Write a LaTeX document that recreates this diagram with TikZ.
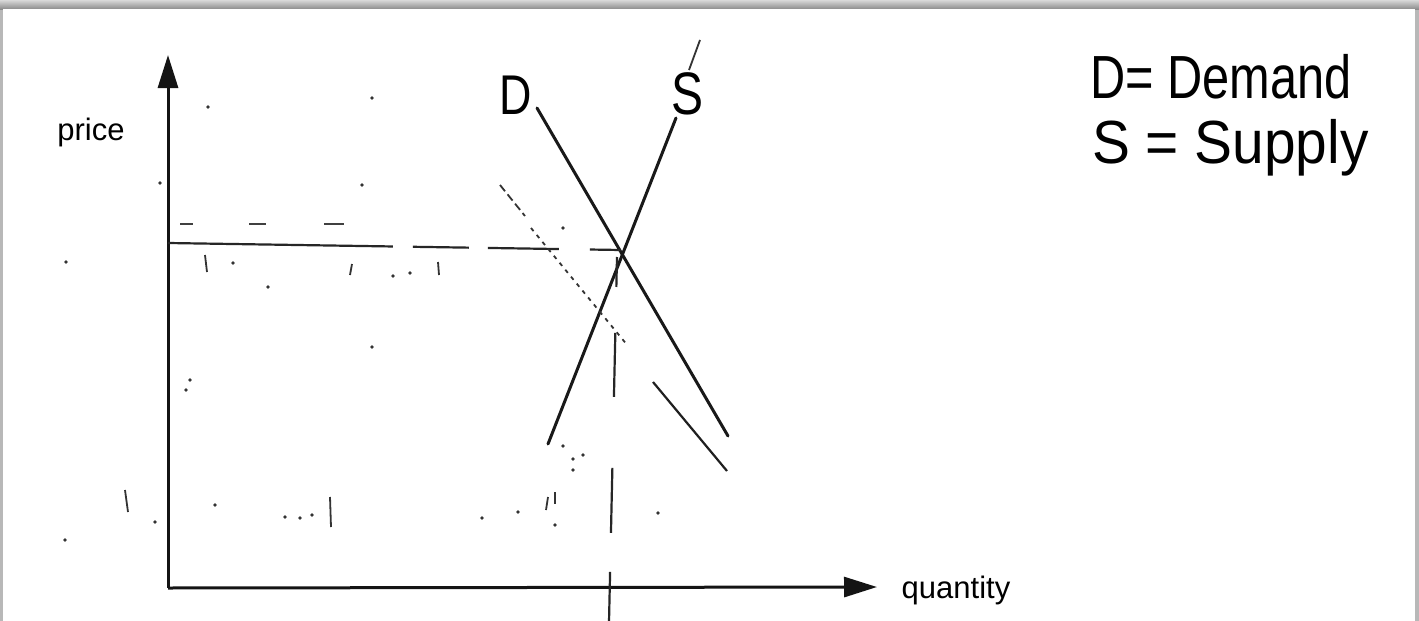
\documentclass[tikz,border=0pt]{standalone}
\usepackage{fontspec}
\setmainfont{Liberation Sans}
\usetikzlibrary{arrows.meta}
\tikzset{
  axisline/.style={line width=3pt, color=black!92, -{Triangle[length=33pt,width=20pt]}},
  curveline/.style={line width=3pt, color=black!90, line cap=round},
  guideline/.style={line width=2.2pt, color=black!85},
  faintline/.style={line width=1.8pt, color=black!80},
  speck/.style={fill=black!80, inner sep=0pt, minimum size=3.6pt, circle, draw=none},
  axislabel/.style={font=\fontsize{31}{34}\selectfont, inner sep=0pt, anchor=base},
  hand/.style={font=\fontsize{58}{62}\selectfont, inner sep=0pt, anchor=base west},
}
\begin{document}
\begin{tikzpicture}[x=1pt,y=-1pt]
\useasboundingbox (0,0) rectangle (1419,621);
% frame shadow
\fill[black!28] (0,0) rectangle (1419,621);
\shade[top color=black!15, bottom color=black!45] (0,0) rectangle (1419,9);
\fill[white] (3,9) rectangle (1415,621);

% axes
\coordinate (O) at (168,588);
\coordinate (ytip) at (168,55);
\coordinate (xtip) at (877,587);
\draw[axisline] (O) -- (ytip);
\draw[axisline] (O) -- (xtip);
\node[axislabel] (price) at (91,140) {price};
\node[axislabel] (qty) at (956,598) {quantity};

% demand and supply
\coordinate (Dtop) at (537,108);
\coordinate (Dbot) at (728,436);
\coordinate (Stop) at (676,118);
\coordinate (Sbot) at (548,444);
\coordinate (E) at (620,250);
\draw[curveline] (Dtop) -- (Dbot);
\draw[curveline] (Sbot) -- (Stop);
\coordinate (Stick1) at (689,70);
\coordinate (Stick2) at (700,40);
\draw[faintline] (Stick1) -- (Stick2);
\node[font=\fontsize{56}{60}\selectfont, inner sep=0pt, anchor=base] (Dlab) at (516,114) {\scalebox{0.8}[1]{D}};
\node[font=\fontsize{60}{64}\selectfont, inner sep=0pt, anchor=base] (Slab) at (688,114) {\scalebox{0.8}[1]{S}};

% equilibrium guides
\coordinate (Pleft) at (168,243);
\coordinate (Pright) at (621,250);
\draw[guideline, dash pattern=on 225pt off 20pt on 56pt off 19pt on 71pt off 31pt on 31pt off 100pt] (Pleft) -- (Pright);
\coordinate (Qtop) at (617,257);
\coordinate (Qbot) at (609,622);
\draw[guideline, dash pattern=on 30pt off 46pt on 64pt off 71pt on 65pt off 39pt on 60pt] (Qtop) -- (Qbot);

% faint upper dashes
\coordinate (U1) at (180,224);
\coordinate (U2) at (344,224);
\draw[line width=1.6pt, black!75, dash pattern=on 13pt off 56pt on 17pt off 58pt on 20pt off 50pt] (U1) -- (U2);

% shifted demand (faint)
\coordinate (F1) at (500,185);
\coordinate (F2) at (525,216);
\coordinate (F3) at (531,228);
\coordinate (F4) at (628,346);
\coordinate (F5) at (653,382);
\coordinate (F6) at (727,471);
\draw[faintline, dash pattern=on 8pt off 4pt] (F1) -- (F2);
\draw[faintline, dash pattern=on 4pt off 5pt] (F3) -- (F4);
\draw[line width=2.2pt, black!88] (F5) -- (F6);

% legend
\node[hand] (leg1) at (1090,98) {\scalebox{0.84}[1.05]{D= Demand}};
\node[hand] (leg2) at (1092,163) {\scalebox{0.98}[1.05]{S = Supply}};

% scan specks
\foreach \p/\q in {208/107,372/98,362/185,66/262,268/287,393/276,410/273,372/347,190/380,186/390,
  155/522,215/505,285/517,300/518,312/515,482/518,518/512,555/525,573/470,583/455,658/513,65/540,
  160/183,563/228,563/446,573/459,233/263}
  \node[speck] at (\p,\q) {};
\foreach \p/\q/\r/\s in {205/255/207/272,352/264/350/275,438/262/439/275,330/497/331/527,125/490/128/512,555/492/555/504,548/497/546/510}
  \draw[line width=1.8pt, black!80] (\p,\q) -- (\r,\s);
\end{tikzpicture}
\end{document}
